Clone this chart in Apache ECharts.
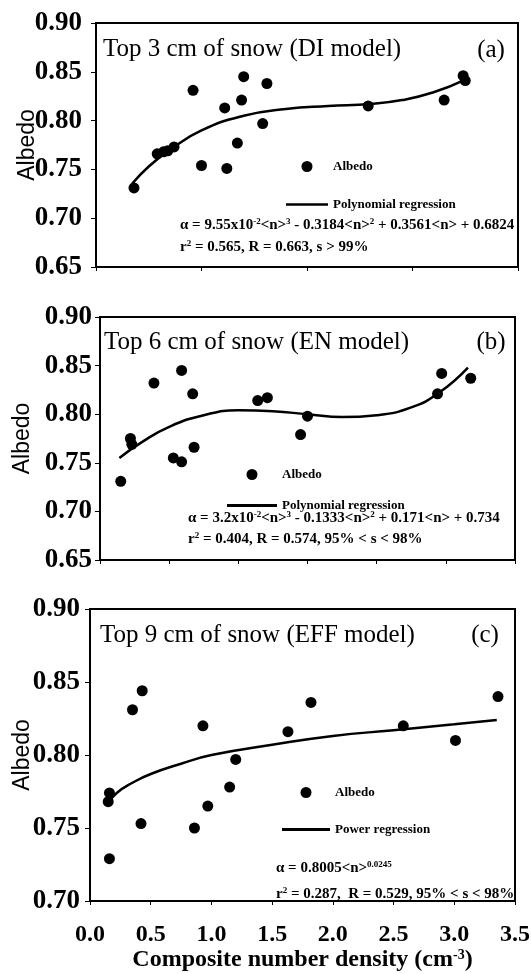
<!DOCTYPE html>
<html>
<head>
<meta charset="utf-8">
<script src="https://cdn.jsdelivr.net/npm/echarts@6/dist/echarts.min.js"></script>
<style>
html,body{margin:0;padding:0;background:#fff;}
#c{width:531px;height:974px;}
</style>
</head>
<body>
<div id="c"></div>
<script>
// ---- Panel (a): Top 3 cm of snow (DI model)
const aX = [0.18,0.29,0.32,0.34,0.37,0.46,0.50,0.61,0.62,0.67,0.69,0.70,0.79,0.81,1.29,1.65,1.74,1.75];
const aY = [0.731,0.766,0.768,0.769,0.773,0.831,0.754,0.813,0.751,0.777,0.821,0.845,0.797,0.838,0.815,0.821,0.846,0.841];
const aFitX = [0.17,0.25,0.35,0.5,0.7,0.9,1.1,1.3,1.45,1.6,1.75];
const aFitY = [0.735,0.753,0.770,0.790,0.805,0.812,0.815,0.817,0.821,0.829,0.842];
// ---- Panel (b): Top 6 cm of snow (EN model)
const bX = [0.15,0.22,0.23,0.39,0.53,0.59,0.59,0.67,0.68,1.14,1.21,1.45,1.50,2.44,2.47,2.68];
const bY = [0.731,0.775,0.769,0.832,0.755,0.751,0.845,0.821,0.766,0.814,0.817,0.779,0.798,0.821,0.842,0.837];
const bFitX = [0.14,0.3,0.5,0.75,1.0,1.25,1.5,1.75,2.0,2.25,2.45,2.66];
const bFitY = [0.755,0.771,0.787,0.799,0.804,0.803,0.800,0.797,0.799,0.807,0.822,0.848];
// ---- Panel (c): Top 9 cm of snow (EFF model)
const cX = [0.16,0.15,0.16,0.35,0.43,0.42,0.86,0.93,0.97,1.15,1.20,1.63,1.82,2.58,3.01,3.36];
const cY = [0.774,0.768,0.729,0.831,0.844,0.753,0.750,0.820,0.765,0.778,0.797,0.816,0.836,0.820,0.810,0.840];
const cFitX = [0.15,0.22,0.35,0.5,0.75,1.0,1.5,2.0,2.5,3.0,3.35];
const cFitY = [0.767,0.774,0.781,0.787,0.794,0.800,0.807,0.813,0.817,0.821,0.824];

const titles = ['Top 3 cm of snow (DI model)','Top 6 cm of snow (EN model)','Top 9 cm of snow (EFF model)'];
const panelTags = ['(a)','(b)','(c)'];
const fitNames = ['Polynomial regression','Polynomial regression','Power regression'];
const eqLines = [
  ['{t|α = 9.55x10}{s|-2}{t|<n>}{s|3}{t| - 0.3184<n>}{s|2}{t| + 0.3561<n> + 0.6824}',
   '{t|r}{s|2}{t| = 0.565, R = 0.663, s > 99%}'],
  ['{t|α = 3.2x10}{s|-2}{t|<n>}{s|3}{t| - 0.1333<n>}{s|2}{t| + 0.171<n> + 0.734}',
   '{t|r}{s|2}{t| = 0.404, R = 0.574, 95% < s < 98%}'],
  ['{t|α = 0.8005<n>}{s|0.0245}',
   '{t|r}{s|2}{t| = 0.287,  R = 0.529, 95% < s < 98%}']
];
const xMax = [2.0, 3.0, 3.5];
const yMin = [0.65, 0.65, 0.70];

const serif = '"Liberation Serif","Times New Roman",serif';
const sans = '"Liberation Sans",Arial,sans-serif';

const grids = [
  {left:96, right:13, top:23, height:244},
  {left:100, right:16, top:317, height:243},
  {left:90, right:16, top:609, height:292}
];
const labelMargins = [14, 8, 10];
const nameGaps = [57, 66, 56];

const chart = echarts.init(document.getElementById('c'), null, {renderer:'canvas'});

const pairs = (xs, ys) => xs.map((x,i)=>[x, ys[i]]);
const sc = [[aX,aY],[bX,bY],[cX,cY]];
const fits = [[aFitX,aFitY],[bFitX,bFitY],[cFitX,cFitY]];
const lineIcon = 'path://M0,0 L16,0 L16,1 L0,1 Z';

const option = {
  backgroundColor:'#fff',
  animation:false,
  grid: grids.map(g => Object.assign({show:true, borderColor:'#000', borderWidth:2, backgroundColor:'transparent',
                                      containLabel:false, outerBoundsMode:'none'}, g)),
  xAxis: [0,1,2].map(i => ({
    type:'value', gridIndex:i, min:0, max:xMax[i], interval:0.5,
    axisLine:{show:true, lineStyle:{color:'#000', width:2}},
    axisTick:{show:true, inside:false, length:4, lineStyle:{color:'#000', width:1}},
    splitLine:{show:false},
    axisLabel: i===2 ? {show:true, margin:22, color:'#000', fontFamily:serif, fontWeight:'bold', fontSize:24,
                        formatter:v=>v.toFixed(1)} : {show:false},
    name: i===2 ? 'Composite number density (cm{sup|-3})' : '',
    nameLocation:'middle', nameGap:47, nameMoveOverlap:false,
    nameTextStyle:{color:'#000', fontFamily:serif, fontWeight:'bold', fontSize:24,
      rich:{sup:{fontSize:14, fontFamily:serif, fontWeight:'bold', color:'#000', verticalAlign:'top', lineHeight:14}}}
  })),
  yAxis: [0,1,2].map(i => ({
    type:'value', gridIndex:i, min:yMin[i], max:0.90, interval:0.05,
    axisLine:{show:true, lineStyle:{color:'#000', width:2}},
    axisTick:{show:true, inside:false, length:5, lineStyle:{color:'#000', width:1}},
    splitLine:{show:false},
    axisLabel:{margin:labelMargins[i], color:'#000', fontFamily:serif, fontWeight:'bold', fontSize:27,
               formatter:v=>v.toFixed(2)},
    name:'Albedo', nameLocation:'middle', nameRotate:90, nameGap:nameGaps[i], nameMoveOverlap:false,
    nameTextStyle:{color:'#000', fontFamily:sans, fontSize:23}
  })),
  legend: [
    {left:286, top:160, itemWidth:42},
    {left:227, top:468, itemWidth:50},
    {left:282, top:786, itemWidth:48}
  ].map((l,i) => ({
    orient:'vertical', left:l.left, top:l.top, padding:0,
    itemWidth:l.itemWidth, itemHeight:11, itemGap:[25,18,24][i],
    selectedMode:false,
    data:[{name:'Albedo', icon:'circle'}, {name:fitNames[i], icon:lineIcon}],
    itemStyle:{color:'#000', borderWidth:0},
    textStyle:{color:'#000', fontFamily:serif, fontWeight:'bold', fontSize:13}
  })),
  series: []
};

for (let i=0;i<3;i++){
  option.series.push({
    type:'scatter', name:'Albedo', xAxisIndex:i, yAxisIndex:i,
    data:pairs(sc[i][0], sc[i][1]), symbol:'circle', symbolSize:11,
    itemStyle:{color:'#000', opacity:1}
  });
  option.series.push({
    type:'line', name:fitNames[i], xAxisIndex:i, yAxisIndex:i,
    data:pairs(fits[i][0], fits[i][1]), smooth:0.5,
    symbol:'none', showSymbol:false,
    lineStyle:{color:'#000', width:2.5}, itemStyle:{color:'#000'}
  });
}

const titlePos = [[103,49],[104,342],[100,635]];
const tagPos = [[491,50],[491,342],[485,635]];
const eqPos = [[180,[225,247]],[188,[518,539]],[276,[868,894]]];
const graphics = [];
for (let i=0;i<3;i++){
  graphics.push({type:'text', x:titlePos[i][0], y:titlePos[i][1],
    style:{text:titles[i], font:'25px '+serif, fill:'#000', verticalAlign:'middle', align:'left'}});
  graphics.push({type:'text', x:tagPos[i][0], y:tagPos[i][1],
    style:{text:panelTags[i], font:'25px '+serif, fill:'#000', verticalAlign:'middle', align:'center'}});
  for (let k=0;k<2;k++){
    graphics.push({type:'text', x:eqPos[i][0], y:eqPos[i][1][k],
      style:{text:eqLines[i][k], fill:'#000', verticalAlign:'middle', align:'left',
        rich:{
          t:{fontFamily:serif, fontWeight:'bold', fontSize:15, lineHeight:16, fill:'#000', color:'#000'},
          s:{fontFamily:serif, fontWeight:'bold', fontSize:9, lineHeight:16, verticalAlign:'top', fill:'#000', color:'#000'}
        }}});
  }
}
option.graphic = graphics;

chart.setOption(option);
</script>
</body>
</html>
